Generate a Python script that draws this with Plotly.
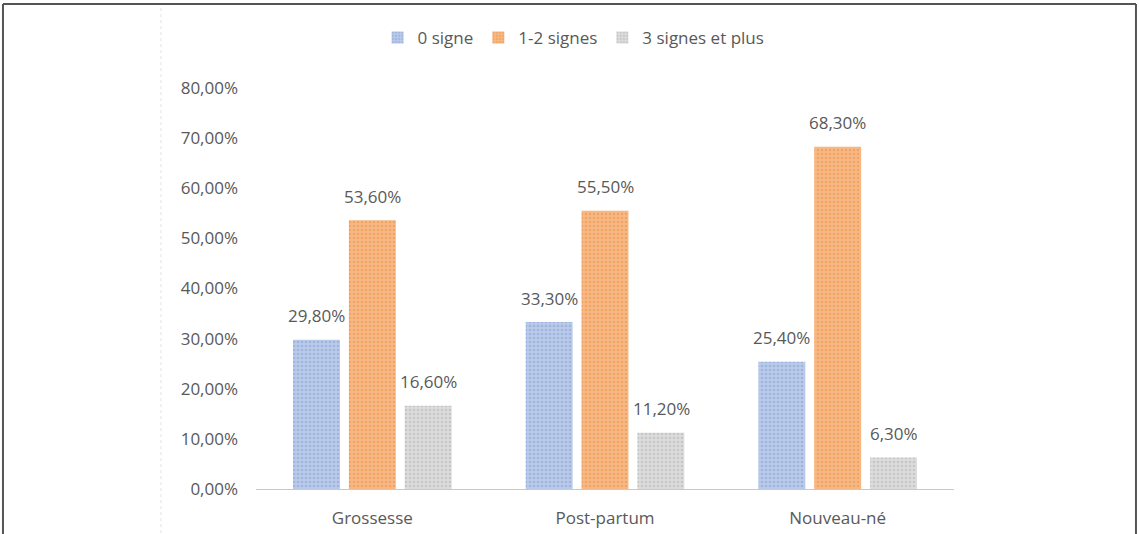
import plotly.graph_objects as go

categories = ["Grossesse", "Post-partum", "Nouveau-né"]
series_names = ["0 signe", "1-2 signes", "3 signes et plus"]
zero_signe = [29.8, 33.3, 25.4]
un_deux_signes = [53.6, 55.5, 68.3]
trois_plus = [16.6, 11.2, 6.3]
y_ticks = [0, 10, 20, 30, 40, 50, 60, 70, 80]
y_tick_labels = [f"{t:.2f}%".replace(".", ",") for t in y_ticks]

series_values = [zero_signe, un_deux_signes, trois_plus]
bg_colors = ["#BACAE8", "#F6B886", "#DCDCDC"]
fg_colors = ["#7F9ED6", "#EE8E3C", "#B0B0B0"]

FONT = "Open Sans"
TXT = "#595959"

fig = go.Figure()
for name, vals, bg, fg in zip(series_names, series_values, bg_colors, fg_colors):
    fig.add_trace(go.Bar(
        x=categories, y=vals, name=name,
        marker=dict(color=bg, line=dict(width=0),
                    pattern=dict(shape=".", fgcolor=fg, bgcolor=bg, size=4, solidity=0.35)),
    ))

# value labels placed above bars
offsets = [-56, 0, 56]
for vals, dx in zip(series_values, offsets):
    for c, v in zip(categories, vals):
        fig.add_annotation(x=c, y=v, xref="x", yref="y", text=f"{v:.2f}%".replace(".", ","),
                           showarrow=False, xshift=dx, yshift=24,
                           font=dict(family=FONT, size=17, color=TXT))

# frame and decoration
fig.add_shape(type="line", xref="paper", yref="paper", x0=-0.3625, x1=-0.3625, y0=-0.2, y1=1.2095,
              line=dict(color="#555555", width=2))
fig.add_shape(type="line", xref="paper", yref="paper", x0=-0.3625, x1=1.2607, y0=1.2095, y1=1.2095,
              line=dict(color="#555555", width=2))
fig.add_shape(type="line", xref="paper", yref="paper", x0=1.2607, x1=1.2607, y0=-0.2, y1=1.2095,
              line=dict(color="#555555", width=2))
fig.add_shape(type="line", xref="paper", yref="paper", x0=-0.1361, x1=-0.1361, y0=-0.2, y1=1.2,
              line=dict(color="#E2E2E2", width=1, dash="dot"))

fig.update_layout(
    width=1139, height=534,
    margin=dict(l=256, r=185, t=88, b=45),
    paper_bgcolor="white", plot_bgcolor="white",
    barmode="group", bargap=0.28, bargroupgap=0.16,
    font=dict(family=FONT, size=17, color=TXT),
    showlegend=True,
    legend=dict(orientation="h", x=0.455, xanchor="center", y=1.125, yanchor="middle",
                font=dict(family=FONT, size=17, color=TXT), itemwidth=30,
                traceorder="normal"),
    xaxis=dict(showline=True, linecolor="#C8C8C8", linewidth=1, ticks="", showgrid=False,
               tickfont=dict(family=FONT, size=17, color=TXT), ticklabelstandoff=14,
               automargin=False),
    yaxis=dict(range=[0, 80], tickvals=y_ticks, ticktext=y_tick_labels,
               showgrid=False, zeroline=False, showline=False, ticks="",
               tickfont=dict(family=FONT, size=17, color=TXT), ticklabelstandoff=17,
               automargin=False),
)

fig.write_html("out.html")
